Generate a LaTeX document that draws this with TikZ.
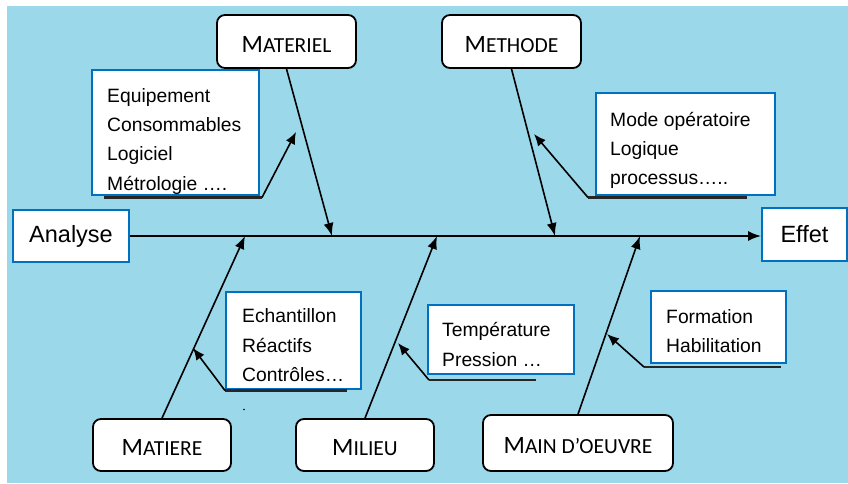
\documentclass[tikz,border=0pt]{standalone}
\usepackage{fontspec}
\setmainfont{Liberation Sans}
\newfontfamily\catfont{Carlito}
\usetikzlibrary{arrows.meta}

\definecolor{sky}{RGB}{155,216,233}
\definecolor{frameblue}{RGB}{0,112,192}

% first letter of a category label, set a little larger
\newcommand\capfirst[1]{{\fontsize{25}{28}\selectfont#1}}

\tikzset{
  catbox/.style={draw=black, line width=1.8pt, rounded corners=8pt, fill=white,
    inner sep=0pt, text height=21pt, text depth=0pt,
    font=\catfont\fontsize{21.5}{24}\selectfont},
  listbox/.style={draw=frameblue, line width=2pt, fill=white, inner sep=0pt},
  listtxt/.style={inner sep=0pt, anchor=north west, align=left,
    font=\fontsize{19.3}{29.4}\selectfont},
  endbox/.style={draw=frameblue, line width=2pt, fill=white, inner sep=0pt,
    font=\fontsize{23.5}{28}\selectfont},
  branch/.style={line width=1.6pt, -{Latex[length=13pt,width=10pt]}},
  leader/.style={line width=2.6pt, draw=black!85},
  pointer/.style={line width=1.6pt, -{Latex[length=12pt,width=10pt]}}
}

\begin{document}
\begin{tikzpicture}[x=1pt,y=-1pt]
  % page and background
  \fill[white] (0,0) rectangle (848,483);
  \fill[sky] (7,6) rectangle (848,483);
  \useasboundingbox (0,0) rectangle (848,483);

  % cause and effect
  \node[endbox, minimum width=116, minimum height=52] (cause) at (71,236) {Analyse};
  \node[endbox, minimum width=85, minimum height=53] (effect) at (804.5,234.5) {Effet};
  \draw[branch] (cause.east) -- (cause.east -| effect.west);

  % category boxes
  \node[catbox, minimum width=139, minimum height=53] (materiel) at (286.5,41.5) {\capfirst{M}ATERIEL};
  \node[catbox, minimum width=139, minimum height=53] (methode) at (511.5,41.5) {\capfirst{M}ETHODE};
  \node[catbox, minimum width=138, minimum height=52] (matiere) at (162,445) {\capfirst{M}ATIERE};
  \node[catbox, minimum width=138, minimum height=52] (milieu) at (365,445) {\capfirst{M}ILIEU};
  \node[catbox, minimum width=190, minimum height=56] (mainoeuvre) at (578,443) {\capfirst{M}AIN D’OEUVRE};

  % junctions on the spine
  \coordinate (j1) at (332,236);
  \coordinate (j2) at (555,236);
  \coordinate (j3) at (245,236);
  \coordinate (j4) at (437,236);
  \coordinate (j5) at (640,236);

  \draw[branch] (materiel.south) -- (j1);
  \draw[branch] (methode.south) -- (j2);
  \draw[branch] (matiere.north) -- (j3);
  \draw[branch] (milieu.north) -- (j4);
  \draw[branch] (mainoeuvre.north) -- (j5);

  % detail boxes
  \node[listbox, minimum width=167, minimum height=125] (eqbox) at (175.5,132.5) {};
  \node[listtxt] (eqtxt) at (107,81.4) {\strut Equipement\\Consommables\\Logiciel\\Métrologie ….};

  \node[listbox, minimum width=179, minimum height=102] (modebox) at (685.5,144) {};
  \node[listtxt] (modetxt) at (610,105.4) {\strut Mode opératoire\\Logique\\processus…..};

  \node[listbox, minimum width=135, minimum height=97] (echbox) at (293.5,340.5) {};
  \node[listtxt] (echtxt) at (242,302.1) {\strut Echantillon\\Réactifs\\Contrôles…};

  \node[listbox, minimum width=146, minimum height=69] (tempbox) at (501,339.5) {};
  \node[listtxt] (temptxt) at (442,316.1) {\strut Température\\Pression …};

  \node[listbox, minimum width=135, minimum height=72] (formbox) at (718.5,327) {};
  \node[listtxt] (formtxt) at (666,302.4) {\strut Formation\\Habilitation};

  % leader lines under the detail boxes and their pointers
  \coordinate (eqA) at (104,197.5);   \coordinate (eqB) at (262,197.5);   \coordinate (eqTip) at (296,132);
  \coordinate (modeA) at (588,197.5); \coordinate (modeB) at (747,197.5); \coordinate (modeTip) at (534,134);
  \coordinate (echA) at (225,390.5);  \coordinate (echB) at (347,390.5);  \coordinate (echTip) at (193,348);
  \coordinate (tempA) at (429,380);   \coordinate (tempB) at (536,380);   \coordinate (tempTip) at (398,343);
  \coordinate (formA) at (644,367);   \coordinate (formB) at (781,367);   \coordinate (formTip) at (607,334);

  \draw[leader] (eqA) -- (eqB);
  \draw[leader] (modeA) -- (modeB);
  \draw[leader] (echA) -- (echB);
  \draw[leader] (tempA) -- (tempB);
  \draw[leader] (formA) -- (formB);

  \draw[pointer] (eqB) -- (eqTip);
  \draw[pointer] (modeA) -- (modeTip);
  \draw[pointer] (echA) -- (echTip);
  \draw[pointer] (tempA) -- (tempTip);
  \draw[pointer] (formA) -- (formTip);

  % stray mark
  \fill (244,409.5) circle (0.9);
\end{tikzpicture}
\end{document}
